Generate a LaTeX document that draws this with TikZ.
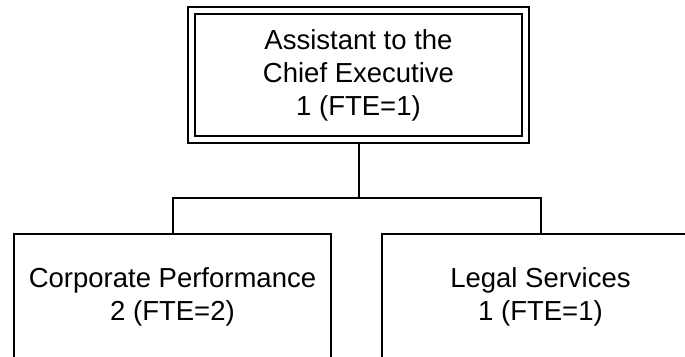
\documentclass[tikz,border=0pt]{standalone}
\usepackage{fontspec}
\setmainfont{Liberation Sans}
\usetikzlibrary{backgrounds}

\tikzset{
    unit/.style={draw, line width=1pt, align=center, inner sep=0pt,
        minimum width=158.5pt, minimum height=63pt,
        font=\fontsize{13.75}{16.5}\selectfont},
    head/.style={unit, double, double distance=2.5pt,
        minimum width=167pt, minimum height=64.75pt},
    link/.style={line width=1pt}
}

\begin{document}
\begin{tikzpicture}[x=0.5pt,y=-0.5pt]

    \useasboundingbox (0,0) rectangle (685,357);

    \node[head] (chief) at (358.5,75.25) {Assistant to the\\Chief Executive\\1 (FTE=1)};
    \node[unit] (perf) at (172.5,297) {Corporate Performance\\2 (FTE=2)};
    \node[unit] (legal) at (540.5,297) {Legal Services\\1 (FTE=1)};

    \coordinate (split) at (358.5,198);

    \begin{scope}[on background layer]
    \draw[link] (chief.south) -- (split);
    \draw[link] (perf.north) |- (split) -| (legal.north);
    \end{scope}

\end{tikzpicture}
\end{document}
